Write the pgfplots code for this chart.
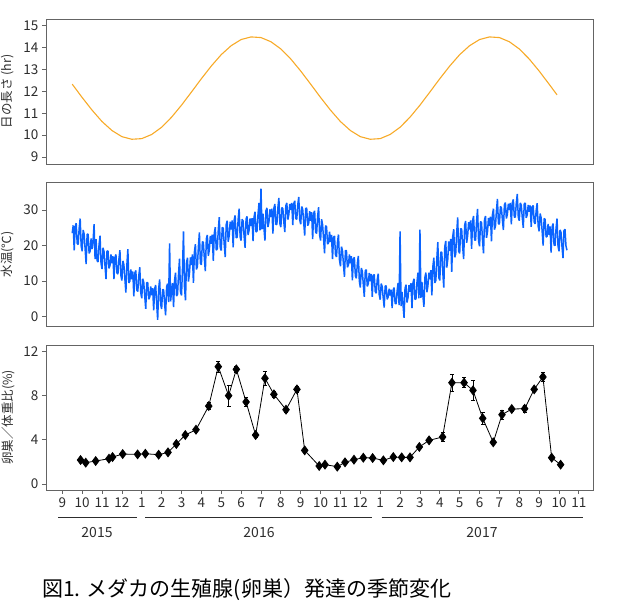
\documentclass[border=0pt]{standalone}
\usepackage{fontspec}
\setmainfont{Noto Sans CJK JP}
\usepackage{pgfplots}
\pgfplotsset{compat=1.18}
\definecolor{dayc}{RGB}{247,170,40}
\definecolor{waterc}{RGB}{10,100,255}
\definecolor{framec}{RGB}{100,100,100}
\definecolor{txtc}{RGB}{45,45,45}
\pgfplotsset{
  panel/.style={
    scale only axis, width=547pt, xmin=-0.82, xmax=26.71,
    axis line style={framec, line width=0.9pt},
    tick align=outside, major tick length=4pt,
    tick style={framec, line width=0.8pt},
    ytick pos=left, xtick pos=bottom,
    /pgf/number format/assume math mode=true,
    ticklabel style={font=\fontsize{13.5}{14}\selectfont, text=txtc},
    ylabel style={at={(axis description cs:-0.0695,0.5)}, anchor=center, font=\fontsize{12.5}{13}\selectfont, text=txtc},
  }
}
\begin{document}
\begin{tikzpicture}
\path[use as bounding box] (0pt,0pt) rectangle (640pt,609pt);
% top panel: day length
\begin{axis}[panel, at={(46pt,445pt)}, anchor=south west, height=145pt,
  ymin=8.68, ymax=15.31, ytick={9,10,11,12,13,14,15}, xtick=\empty,
  ylabel={日の長さ (hr)}]
\addplot[dayc, line width=1.1pt] coordinates {
(0.5,12.33)(1.0,11.72)(1.5,11.14)(2.0,10.62)(2.5,10.21)(3.0,9.93)(3.5,9.81)(4.0,9.84)(4.5,10.03)(5.0,10.36)
(5.5,10.82)(6.0,11.37)(6.5,11.97)(7.0,12.58)(7.5,13.16)(8.0,13.68)(8.5,14.09)(9.0,14.37)(9.5,14.49)(10.0,14.46)
(10.5,14.27)(11.0,13.94)(11.5,13.48)(12.0,12.93)(12.5,12.33)(13.0,11.72)(13.5,11.14)(14.0,10.62)(14.5,10.21)(15.0,9.93)
(15.5,9.81)(16.0,9.84)(16.5,10.03)(17.0,10.36)(17.5,10.82)(18.0,11.37)(18.5,11.97)(19.0,12.58)(19.5,13.16)(20.0,13.68)
(20.5,14.09)(21.0,14.37)(21.5,14.49)(22.0,14.46)(22.5,14.27)(23.0,13.94)(23.5,13.48)(24.0,12.93)(24.5,12.33)(24.9,11.84)
};
\end{axis}
% middle panel: water temperature
\begin{axis}[panel, at={(46pt,282.3pt)}, anchor=south west, height=144.4pt,
  ymin=-2.8, ymax=37.8, ytick={0,10,20,30}, xtick=\empty,
  ylabel={水温(℃)}]
\addplot[waterc, line width=1.5pt, line join=bevel] coordinates {
(0.5,23.5)(0.55,25.7)(0.6,18.7)(0.65,25.4)(0.7,26.3)(0.75,20.6)(0.8,20.3)(0.85,24.9)(0.9,27.6)(0.95,19.9)
(1.0,18.4)(1.05,24.4)(1.1,23.2)(1.15,19.0)(1.2,14.8)(1.25,23.2)(1.3,23.2)(1.35,17.8)(1.4,18.4)(1.45,22.0)
(1.5,19)(1.55,21.4)(1.6,26)(1.65,16.2)(1.7,21.8)(1.75,15.8)(1.8,15.4)(1.85,20.2)(1.9,22.8)(1.95,15.0)
(2.0,13.4)(2.05,19.4)(2.1,18.3)(2.15,14.3)(2.2,10.6)(2.25,18.4)(2.3,18.5)(2.35,13.6)(2.4,14.4)(2.45,17.5)
(2.5,15)(2.55,17.0)(2.6,10.6)(2.65,16.7)(2.7,17.5)(2.75,12.3)(2.8,12.0)(2.85,16.2)(2.9,18.7)(2.95,11.6)
(3.0,10.2)(3.05,15.7)(3.1,14.6)(3.15,10.7)(3.2,6.8)(3.25,14.5)(3.3,19)(3.35,9.5)(3.4,10.0)(3.45,13.3)
(3.5,10.5)(3.55,12.7)(3.6,5.7)(3.65,12.3)(3.7,13.0)(3.75,7.5)(3.8,7.1)(3.85,11.5)(3.9,13.9)(3.95,6.7)
(4.0,5.2)(4.05,10.7)(4.1,9.6)(4.15,5.8)(4.2,2.2)(4.25,9.6)(4.3,9.6)(4.35,4.9)(4.4,5.5)(4.45,8.5)
(4.5,6)(4.55,8.0)(4.6,1.8)(4.65,7.9)(4.7,8.9)(4.75,3.7)(4.8,-0.9)(4.85,7.8)(4.9,10.5)(4.95,3.4)
(5.0,2.2)(5.05,7.7)(5.1,7.5)(5.15,3.6)(5.2,0.4)(5.25,8.4)(5.3,9.3)(5.35,4.1)(5.4,20.6)(5.45,4.3)
(5.5,7)(5.55,9.4)(5.6,2.7)(5.65,10.2)(5.7,12.4)(5.75,5.8)(5.8,6.3)(5.85,11.9)(5.9,16.3)(5.95,6.9)
(6.0,6)(6.05,13.5)(6.1,24)(6.15,8.4)(6.2,4.6)(6.25,15.1)(6.3,16.6)(6.35,9.9)(6.4,12.2)(6.45,16.7)
(6.5,14.5)(6.55,17.5)(6.6,9.5)(6.65,18.2)(6.7,20.4)(6.75,13.3)(6.8,14.1)(6.85,19.7)(6.9,23.7)(6.95,15.0)
(7.0,14.6)(7.05,21.1)(7.1,20.9)(7.15,16.3)(7.2,12.8)(7.25,21.9)(7.3,23)(7.35,17.1)(7.4,18.8)(7.45,22.7)
(7.5,20.5)(7.55,23.1)(7.6,15.7)(7.65,23.5)(7.7,25.2)(7.75,18.7)(7.8,19.1)(7.85,24.3)(7.9,28)(7.95,19.5)
(8.0,18.6)(8.05,25.1)(8.1,24.9)(8.15,20.3)(8.2,16.8)(8.25,25.9)(8.3,27)(8.35,21.1)(8.4,22.8)(8.45,26.7)
(8.5,24.5)(8.55,27.1)(8.6,19.5)(8.65,27.2)(8.7,28.5)(8.75,22.2)(8.8,22.3)(8.85,27.3)(8.9,30.4)(8.95,22.5)
(9.0,21.4)(9.05,27.4)(9.1,26.9)(9.15,22.7)(9.2,19.4)(9.25,27.5)(9.3,28.2)(9.35,23.0)(9.4,24.3)(9.45,27.6)
(9.5,25.5)(9.55,27.7)(9.6,21.3)(9.65,28.0)(9.7,29.5)(9.75,23.8)(9.8,24.1)(9.85,28.7)(9.9,32)(9.95,24.3)
(10.0,36)(10.05,24.6)(10.1,29)(10.15,24.8)(10.2,21.4)(10.25,29.8)(10.3,30.6)(10.35,25.2)(10.4,26.6)(10.45,30.2)
(10.5,28)(10.55,30.4)(10.6,23.4)(10.65,30.5)(10.7,31.7)(10.75,25.9)(10.8,26)(10.85,30.6)(10.9,33.4)(10.95,26.2)
(11.0,25.2)(11.05,30.7)(11.1,30.4)(11.15,26.6)(11.2,23.8)(11.25,31.2)(11.3,32)(11.35,27.3)(11.4,28.7)(11.45,31.7)
(11.5,30)(11.55,32.0)(11.6,25.8)(11.65,31.8)(11.7,32.6)(11.75,27.6)(11.8,27.4)(11.85,31.4)(11.9,33.7)(11.95,27.2)
(12.0,26)(12.05,31.0)(12.1,30.2)(12.15,26.5)(12.2,22.8)(12.25,30.4)(12.3,30.6)(12.35,25.6)(12.4,26.2)(12.45,29.7)
(12.5,27)(12.55,29.4)(12.6,21.8)(12.65,29.0)(12.7,29.8)(12.75,23.8)(12.8,23.4)(12.85,28.2)(12.9,30.8)(12.95,23.0)
(13.0,21.4)(13.05,27.4)(13.1,25.9)(13.15,21.9)(13.2,17.8)(13.25,25.6)(13.3,25.3)(13.35,20.4)(13.4,20.8)(13.45,23.9)
(13.5,21)(13.55,23.0)(13.6,16.2)(13.65,22.3)(13.7,22.7)(13.75,17.5)(13.8,16.8)(13.85,21.0)(13.9,23.1)(13.95,16.0)
(14.0,14.2)(14.05,19.7)(14.1,18.6)(14.15,14.8)(14.2,11.2)(14.25,18.6)(14.3,18.6)(14.35,13.9)(14.4,14.5)(14.45,17.5)
(14.5,15)(14.55,17.0)(14.6,10.2)(14.65,16.3)(14.7,16.7)(14.75,11.5)(14.8,10.8)(14.85,15.0)(14.9,17.1)(14.95,10.0)
(15.0,8.2)(15.05,13.7)(15.1,12.8)(15.15,9.0)(15.2,5.6)(15.25,13.0)(15.3,13.2)(15.35,8.5)(15.4,9.3)(15.45,12.3)
(15.5,10)(15.55,12.0)(15.6,5.6)(15.65,11.5)(15.7,11.9)(15.75,7.1)(15.8,6.6)(15.85,10.4)(15.9,12.1)(15.95,6.2)
(16.0,4.8)(16.05,9.3)(16.1,8.5)(16.15,5.4)(16.2,2.6)(16.25,8.6)(16.3,8.7)(16.35,4.9)(16.4,5.5)(16.45,7.9)
(16.5,6)(16.55,7.6)(16.6,2.4)(16.65,7.5)(16.7,8.2)(16.75,3.8)(16.8,3.6)(16.85,7.2)(16.9,9.5)(16.95,3.3)
(17.0,24)(17.05,3.0)(17.1,7)(17.15,3.3)(17.2,-0.3)(17.25,8.0)(17.3,9)(17.35,4.0)(17.4,5.4)(17.45,8.9)
(17.5,7)(17.55,9.4)(17.6,2.4)(17.65,9.5)(17.7,10.7)(17.75,4.9)(17.8,5)(17.85,9.6)(17.9,12.4)(17.95,5.2)
(18.0,24.5)(18.05,5.3)(18.1,9.8)(18.15,5.8)(18.2,2.8)(18.25,11.1)(18.3,12.4)(18.35,6.9)(18.4,8.6)(18.45,12.4)
(18.5,10.5)(18.55,13.1)(18.6,6)(18.65,14.1)(18.7,16.6)(18.75,9.5)(18.8,10.2)(18.85,16.2)(18.9,21)(18.95,11.0)
(19.0,10.2)(19.05,18.2)(19.1,18.1)(19.15,12.5)(19.2,8.2)(19.25,19.7)(19.3,21.3)(19.35,13.8)(19.4,16.1)(19.45,21.2)
(19.5,18.5)(19.55,21.9)(19.6,12.6)(19.65,22.5)(19.7,24.6)(19.75,16.7)(19.8,17.6)(19.85,23.6)(19.9,27.9)(19.95,18.4)
(20.0,17.8)(20.05,24.8)(20.1,24.6)(20.15,19.7)(20.2,16.2)(20.25,25.7)(20.3,26.9)(20.35,20.8)(20.4,22.7)(20.45,26.6)
(20.5,24.5)(20.55,27.1)(20.6,19.1)(20.65,27.0)(20.7,28.3)(20.75,21.6)(20.8,21.5)(20.85,26.9)(20.9,30.3)(20.95,21.3)
(21.0,19.8)(21.05,26.8)(21.1,26.4)(21.15,21.5)(21.2,17.8)(21.25,27.3)(21.3,28.3)(21.35,22.2)(21.4,23.9)(21.45,27.8)
(21.5,25.5)(21.55,28.1)(21.6,21.2)(21.65,28.7)(21.7,30.4)(21.75,24.5)(21.8,25.4)(21.85,29.8)(21.9,33.1)(21.95,26.2)
(22.0,26)(22.05,31.0)(22.1,30.7)(22.15,27.2)(22.2,24.4)(22.25,31.4)(22.3,32.1)(22.35,27.6)(22.4,28.8)(22.45,31.8)
(22.5,30)(22.55,32.0)(22.6,26)(22.65,32.0)(22.7,33)(22.75,28.0)(22.8,28)(22.85,32.0)(22.9,34.5)(22.95,28.0)
(23.0,27)(23.05,32.0)(23.1,31.4)(23.15,27.9)(23.2,25)(23.25,31.7)(23.3,32)(23.35,27.8)(23.4,28.7)(23.45,31.4)
(23.5,29.5)(23.55,31.3)(23.6,25.3)(23.65,30.8)(23.7,31.3)(23.75,26.6)(23.8,26.1)(23.85,29.9)(23.9,31.9)(23.95,25.5)
(24.0,24)(24.05,29.0)(24.1,27.8)(24.15,24.1)(24.2,20)(24.25,27.6)(24.3,27.4)(24.35,22.4)(24.4,22.6)(24.45,26.1)
(24.5,23)(24.55,25.4)(24.6,18)(24.65,25.2)(24.7,26.2)(24.75,20.2)(24.8,20)(24.85,24.8)(24.9,27.6)(24.95,19.8)
(25.0,18.4)(25.05,24.4)(25.1,23.7)(25.15,19.7)(25.2,16.5)(25.25,24.2)(25.3,24.6)(25.35,19.9)(25.4,18.7)
};
\end{axis}
% bottom panel: gonadosomatic index
\begin{axis}[panel, at={(46pt,119pt)}, anchor=south west, height=145pt,
  ymin=-0.54, ymax=12.57, ytick={0,4,8,12},
  xtick={0,...,26},
  xticklabels={9,10,11,12,1,2,3,4,5,6,7,8,9,10,11,12,1,2,3,4,5,6,7,8,9,10,11},
  ylabel={卵巣／体重比(\%)}]
\addplot[black, line width=0.8pt, mark=diamond*, mark size=4.4pt, mark options={fill=black, solid},
  error bars/.cd, y dir=both, y explicit,
  error bar style={black, line width=0.6pt},
  error mark options={rotate=90, mark size=2pt, black, line width=0.6pt}]
table[x=m, y=v, y error=e] {
m v e
0.92 2.17 0.12
1.18 1.93 0.12
1.68 2.08 0.12
2.35 2.29 0.12
2.53 2.44 0.12
3.04 2.71 0.12
3.79 2.68 0.12
4.18 2.74 0.12
4.85 2.65 0.12
5.32 2.86 0.15
5.74 3.62 0.15
6.19 4.43 0.15
6.73 4.91 0.15
7.37 7.05 0.3
7.85 10.61 0.5
8.37 7.99 0.95
8.76 10.37 0.3
9.25 7.42 0.4
9.73 4.43 0.2
10.20 9.56 0.65
10.65 8.11 0.25
11.26 6.72 0.2
11.81 8.56 0.3
12.20 3.04 0.15
12.93 1.63 0.12
13.22 1.75 0.12
13.84 1.57 0.12
14.23 1.96 0.12
14.68 2.20 0.12
15.15 2.38 0.12
15.62 2.35 0.12
16.16 2.14 0.12
16.66 2.44 0.12
17.08 2.41 0.12
17.50 2.41 0.12
17.97 3.35 0.15
18.46 3.95 0.15
19.14 4.25 0.4
19.61 9.16 0.8
20.22 9.16 0.45
20.67 8.47 0.9
21.16 5.94 0.5
21.69 3.77 0.15
22.13 6.27 0.4
22.62 6.78 0.2
23.27 6.81 0.3
23.75 8.56 0.2
24.19 9.68 0.4
24.63 2.38 0.15
25.08 1.75 0.12
};
\end{axis}
% year annotations
\draw[txtc, line width=1.3pt] (58pt,91.7pt) -- (137pt,91.7pt);
\draw[txtc, line width=1.3pt] (145pt,91.7pt) -- (372.3pt,91.7pt);
\draw[txtc, line width=1.3pt] (381.7pt,91.7pt) -- (583pt,91.7pt);
\node[text=txtc, font=\fontsize{14}{15}\selectfont] at (97pt,76.7pt) {2015};
\node[text=txtc, font=\fontsize{14}{15}\selectfont] at (259pt,76.7pt) {2016};
\node[text=txtc, font=\fontsize{14}{15}\selectfont] at (482pt,76.7pt) {2017};
% caption
\node[anchor=west, inner sep=0pt, font=\fontsize{21}{23}\selectfont] at (42pt,19pt) {図1. メダカの生殖腺(卵巣）発達の季節変化};
\end{tikzpicture}
\end{document}
